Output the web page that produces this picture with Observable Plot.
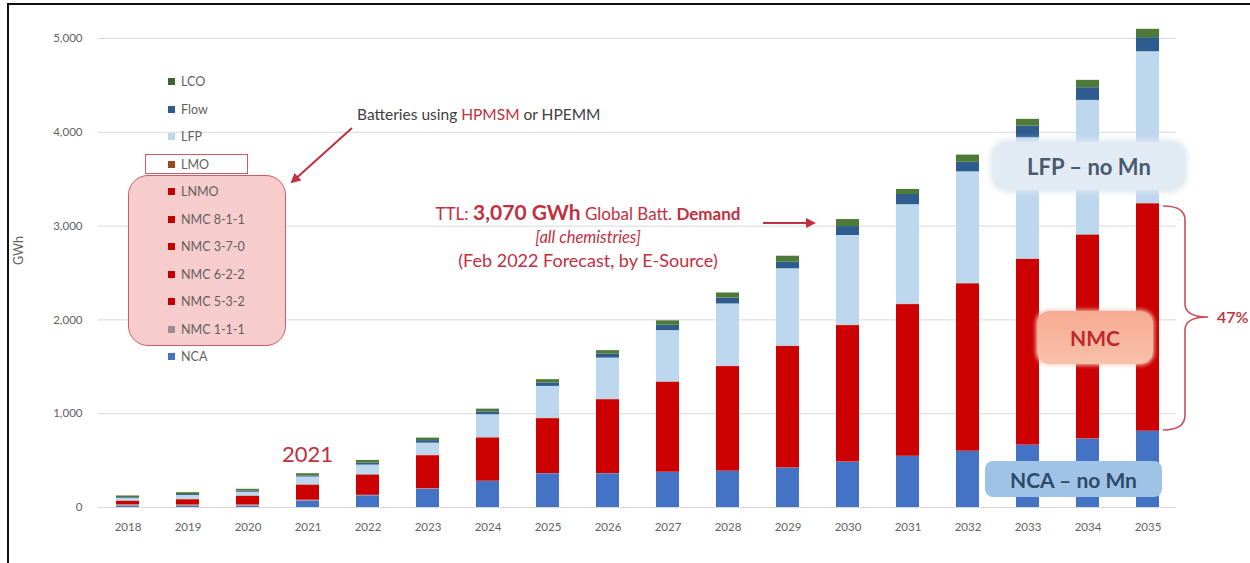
<!DOCTYPE html>
<html>
<head>
<meta charset="utf-8">
<script src="https://cdn.jsdelivr.net/npm/d3@7"></script>
<script src="https://cdn.jsdelivr.net/npm/@observablehq/plot@0.6"></script>
<style>
  html, body { margin: 0; padding: 0; background: #fff; }
  #wrap { position: relative; width: 1250px; height: 563px; overflow: hidden; font-family: Lato, "Open Sans", sans-serif; background: #fff; }
  #wrap svg { display: block; }
  .abs { position: absolute; }
  #frame { position: absolute; left: 7px; top: 3px; width: 1300px; height: 600px; border-top: 2px solid #111; border-left: 2px solid #111; pointer-events: none; }
  .legend-item { position: absolute; left: 168px; height: 14px; font-size: 12.5px; color: #5f5f5f; line-height: 14px; white-space: nowrap; }
  .legend-item .sw { display: inline-block; width: 7px; height: 7px; margin-right: 6px; vertical-align: 1px; }
  .box { position: absolute; display: flex; align-items: center; justify-content: center; white-space: nowrap; }
  .red { color: #c0303f; }
</style>
</head>
<body>
<div id="wrap"></div>
<script>
// ---------- data ----------
const years = ["2018","2019","2020","2021","2022","2023","2024","2025","2026","2027","2028","2029","2030","2031","2032","2033","2034","2035"];
const seriesNames = ["NCA", "NMC 1-1-1", "NMC", "LMO", "LFP", "Flow", "LCO"];
const seriesColors = ["#4472c4", "#a38f91", "#cc0000", "#9c4a1c", "#bdd7ee", "#2e5c8f", "#4e7a38"];
const nca    = [15, 12, 15, 70, 125, 195, 277, 360, 360, 374, 385, 420, 483, 544, 598, 663, 729, 811];
const nmc111 = [15, 15, 12, 8, 5, 5, 3, 2, 2, 2, 2, 2, 2, 2, 2, 2, 2, 2];
const nmc    = [35, 55, 90, 159, 215, 352, 460, 585, 787, 958, 1115, 1294, 1454, 1617, 1783, 1979, 2172, 2424];
const lmo    = [5, 6, 6, 5, 5, 5, 5, 5, 5, 5, 5, 5, 5, 5, 5, 5, 5, 5];
const lfp    = [28, 40, 40, 83, 102, 129, 244, 339, 439, 547, 663, 824, 956, 1060, 1190, 1292, 1432, 1617];
const flow   = [8, 10, 12, 12, 22, 27, 30, 37, 42, 57, 62, 70, 95, 109, 102, 125, 135, 150];
const lco    = [17, 20, 19, 23, 28, 27, 30, 35, 37, 47, 55, 64, 75, 54, 77, 72, 79, 89];
const yTicks = [0, 1000, 2000, 3000, 4000, 5000];
const legendNames  = ["LCO", "Flow", "LFP", "LMO", "LNMO", "NMC 8-1-1", "NMC 3-7-0", "NMC 6-2-2", "NMC 5-3-2", "NMC 1-1-1", "NCA"];
const legendColors = ["#3d6430", "#2e5c8f", "#bdd7ee", "#9c4a1c", "#c00000", "#c00000", "#c00000", "#c00000", "#c00000", "#9e8c8c", "#4472c4"];

const seriesValues = [nca, nmc111, nmc, lmo, lfp, flow, lco];
const rows = [];
seriesNames.forEach((name, s) => years.forEach((yr, i) => rows.push({year: yr, series: name, value: seriesValues[s][i]})));

// ---------- chart ----------
const plot = Plot.plot({
  width: 1250,
  height: 563,
  marginLeft: 98,
  marginRight: 74,
  marginTop: 38,
  marginBottom: 56,
  style: {fontFamily: "Lato, 'Open Sans', sans-serif", fontSize: "11.5px", color: "#5f5f5f", background: "transparent", overflow: "visible"},
  x: {domain: years, paddingInner: 0.62, paddingOuter: 0.293, label: null, tickSize: 0, tickPadding: 15},
  y: {domain: [0, 5000], ticks: yTicks, tickFormat: d3.format(","), label: null, tickSize: 0, tickPadding: 16},
  color: {domain: seriesNames, range: seriesColors},
  marks: [
    Plot.ruleY(yTicks, {stroke: "#d9d9d9", strokeWidth: 1}),
    Plot.barY(rows, {x: "year", y: "value", fill: "series", order: seriesNames})
  ]
});

const wrap = document.getElementById("wrap");
wrap.appendChild(plot);

const xs = plot.scale("x");
const ys = plot.scale("y");
const xc = yr => xs.apply(yr) + xs.bandwidth / 2;

// y-axis title
const gwh = document.createElement("div");
gwh.className = "abs";
gwh.style.cssText = "left:3px;top:243px;font-size:12.5px;color:#5f5f5f;transform:rotate(-90deg);transform-origin:center;width:30px;text-align:center;";
gwh.textContent = "GWh";
wrap.appendChild(gwh);

// legend highlight boxes
const pink = document.createElement("div");
pink.className = "abs";
pink.style.cssText = "left:128px;top:175px;width:158px;height:171px;border-radius:20px;background:#f7cccc;border:1.5px solid #d25a68;box-sizing:border-box;";
wrap.appendChild(pink);
const lmoBox = document.createElement("div");
lmoBox.className = "abs";
lmoBox.style.cssText = "left:145px;top:154px;width:103px;height:20px;background:#fff;border:1px solid #d25a68;box-sizing:border-box;";
wrap.appendChild(lmoBox);

// legend entries
legendNames.forEach((n, i) => {
  const d = document.createElement("div");
  d.className = "legend-item";
  d.style.top = (82 + i * 27.5 - 7) + "px";
  d.innerHTML = `<span class="sw" style="background:${legendColors[i]}"></span>${n}`;
  wrap.appendChild(d);
});

// text annotations
function addText(html, css) {
  const d = document.createElement("div");
  d.className = "abs";
  d.style.cssText = css;
  d.innerHTML = html;
  wrap.appendChild(d);
  return d;
}
addText('Batteries using <span class="red">HPMSM</span> or HPEMM', "left:357px;top:105px;font-size:15.5px;color:#404040;white-space:nowrap;");
addText('2021', `left:${xc("2021") - 40}px;top:440px;width:80px;text-align:center;font-size:22px;color:#c0303f;`);

addText('TTL: <b style="font-size:21px">3,070 GWh</b> Global Batt. <b>Demand</b>',
  "left:338px;top:199px;width:500px;text-align:center;font-size:17px;color:#c0303f;white-space:nowrap;");
addText('<i>[all chemistries]</i>', "left:338px;top:227px;width:500px;text-align:center;font-size:16.5px;color:#c0303f;");
addText('(Feb 2022 Forecast, by E-Source)', "left:338px;top:249px;width:500px;text-align:center;font-size:18px;color:#c0303f;");

// right side boxes
function addBox(text, css) {
  const d = document.createElement("div");
  d.className = "box";
  d.style.cssText = css;
  d.textContent = text;
  wrap.appendChild(d);
}
addBox("LFP \u2013 no Mn", "left:993px;top:142px;width:192px;height:48px;border-radius:14px;background:#e2eaf3;box-shadow:0 0 6px 2px #dde6f0;font-size:22px;font-weight:700;color:#4a5a6e;");
addBox("NMC", "left:1037px;top:311px;width:116px;height:53px;border-radius:12px;background:linear-gradient(#f6ab92,#f8c0aa);box-shadow:0 0 4px 1px #f7c9b8;font-size:21px;font-weight:700;color:#c0262d;");
addBox("NCA \u2013 no Mn", "left:985px;top:461px;width:177px;height:36px;border-radius:8px;background:#9ec3e6;font-size:21px;font-weight:700;color:#2f4a68;");
addText('47%', "left:1217px;top:307px;font-size:16px;font-weight:600;color:#c0303f;white-space:nowrap;");

// arrows and brace
const ns = "http://www.w3.org/2000/svg";
const over = document.createElementNS(ns, "svg");
over.setAttribute("width", 1250);
over.setAttribute("height", 563);
over.style.cssText = "position:absolute;left:0;top:0;pointer-events:none;";
over.innerHTML = `
  <defs>
    <marker id="ah" viewBox="0 0 10 10" refX="8" refY="5" markerWidth="5" markerHeight="5" orient="auto-start-reverse">
      <path d="M0,0 L10,5 L0,10 z" fill="#c0303f"/>
    </marker>
  </defs>
  <line x1="352" y1="128" x2="292" y2="182" stroke="#c0303f" stroke-width="2" marker-end="url(#ah)"/>
  <line x1="763" y1="${ys.apply(3070) + 4}" x2="814" y2="${ys.apply(3070) + 4}" stroke="#c0303f" stroke-width="2" marker-end="url(#ah)"/>
  <path d="M1163,206 Q1185,206 1185,220 L1185,304 Q1185,317 1208,317 Q1185,317 1185,330 L1185,415 Q1185,430 1163,430" fill="none" stroke="#c9505c" stroke-width="1.6"/>
`;
wrap.appendChild(over);

// frame
const fr = document.createElement("div");
fr.id = "frame";
wrap.appendChild(fr);
</script>
</body>
</html>
